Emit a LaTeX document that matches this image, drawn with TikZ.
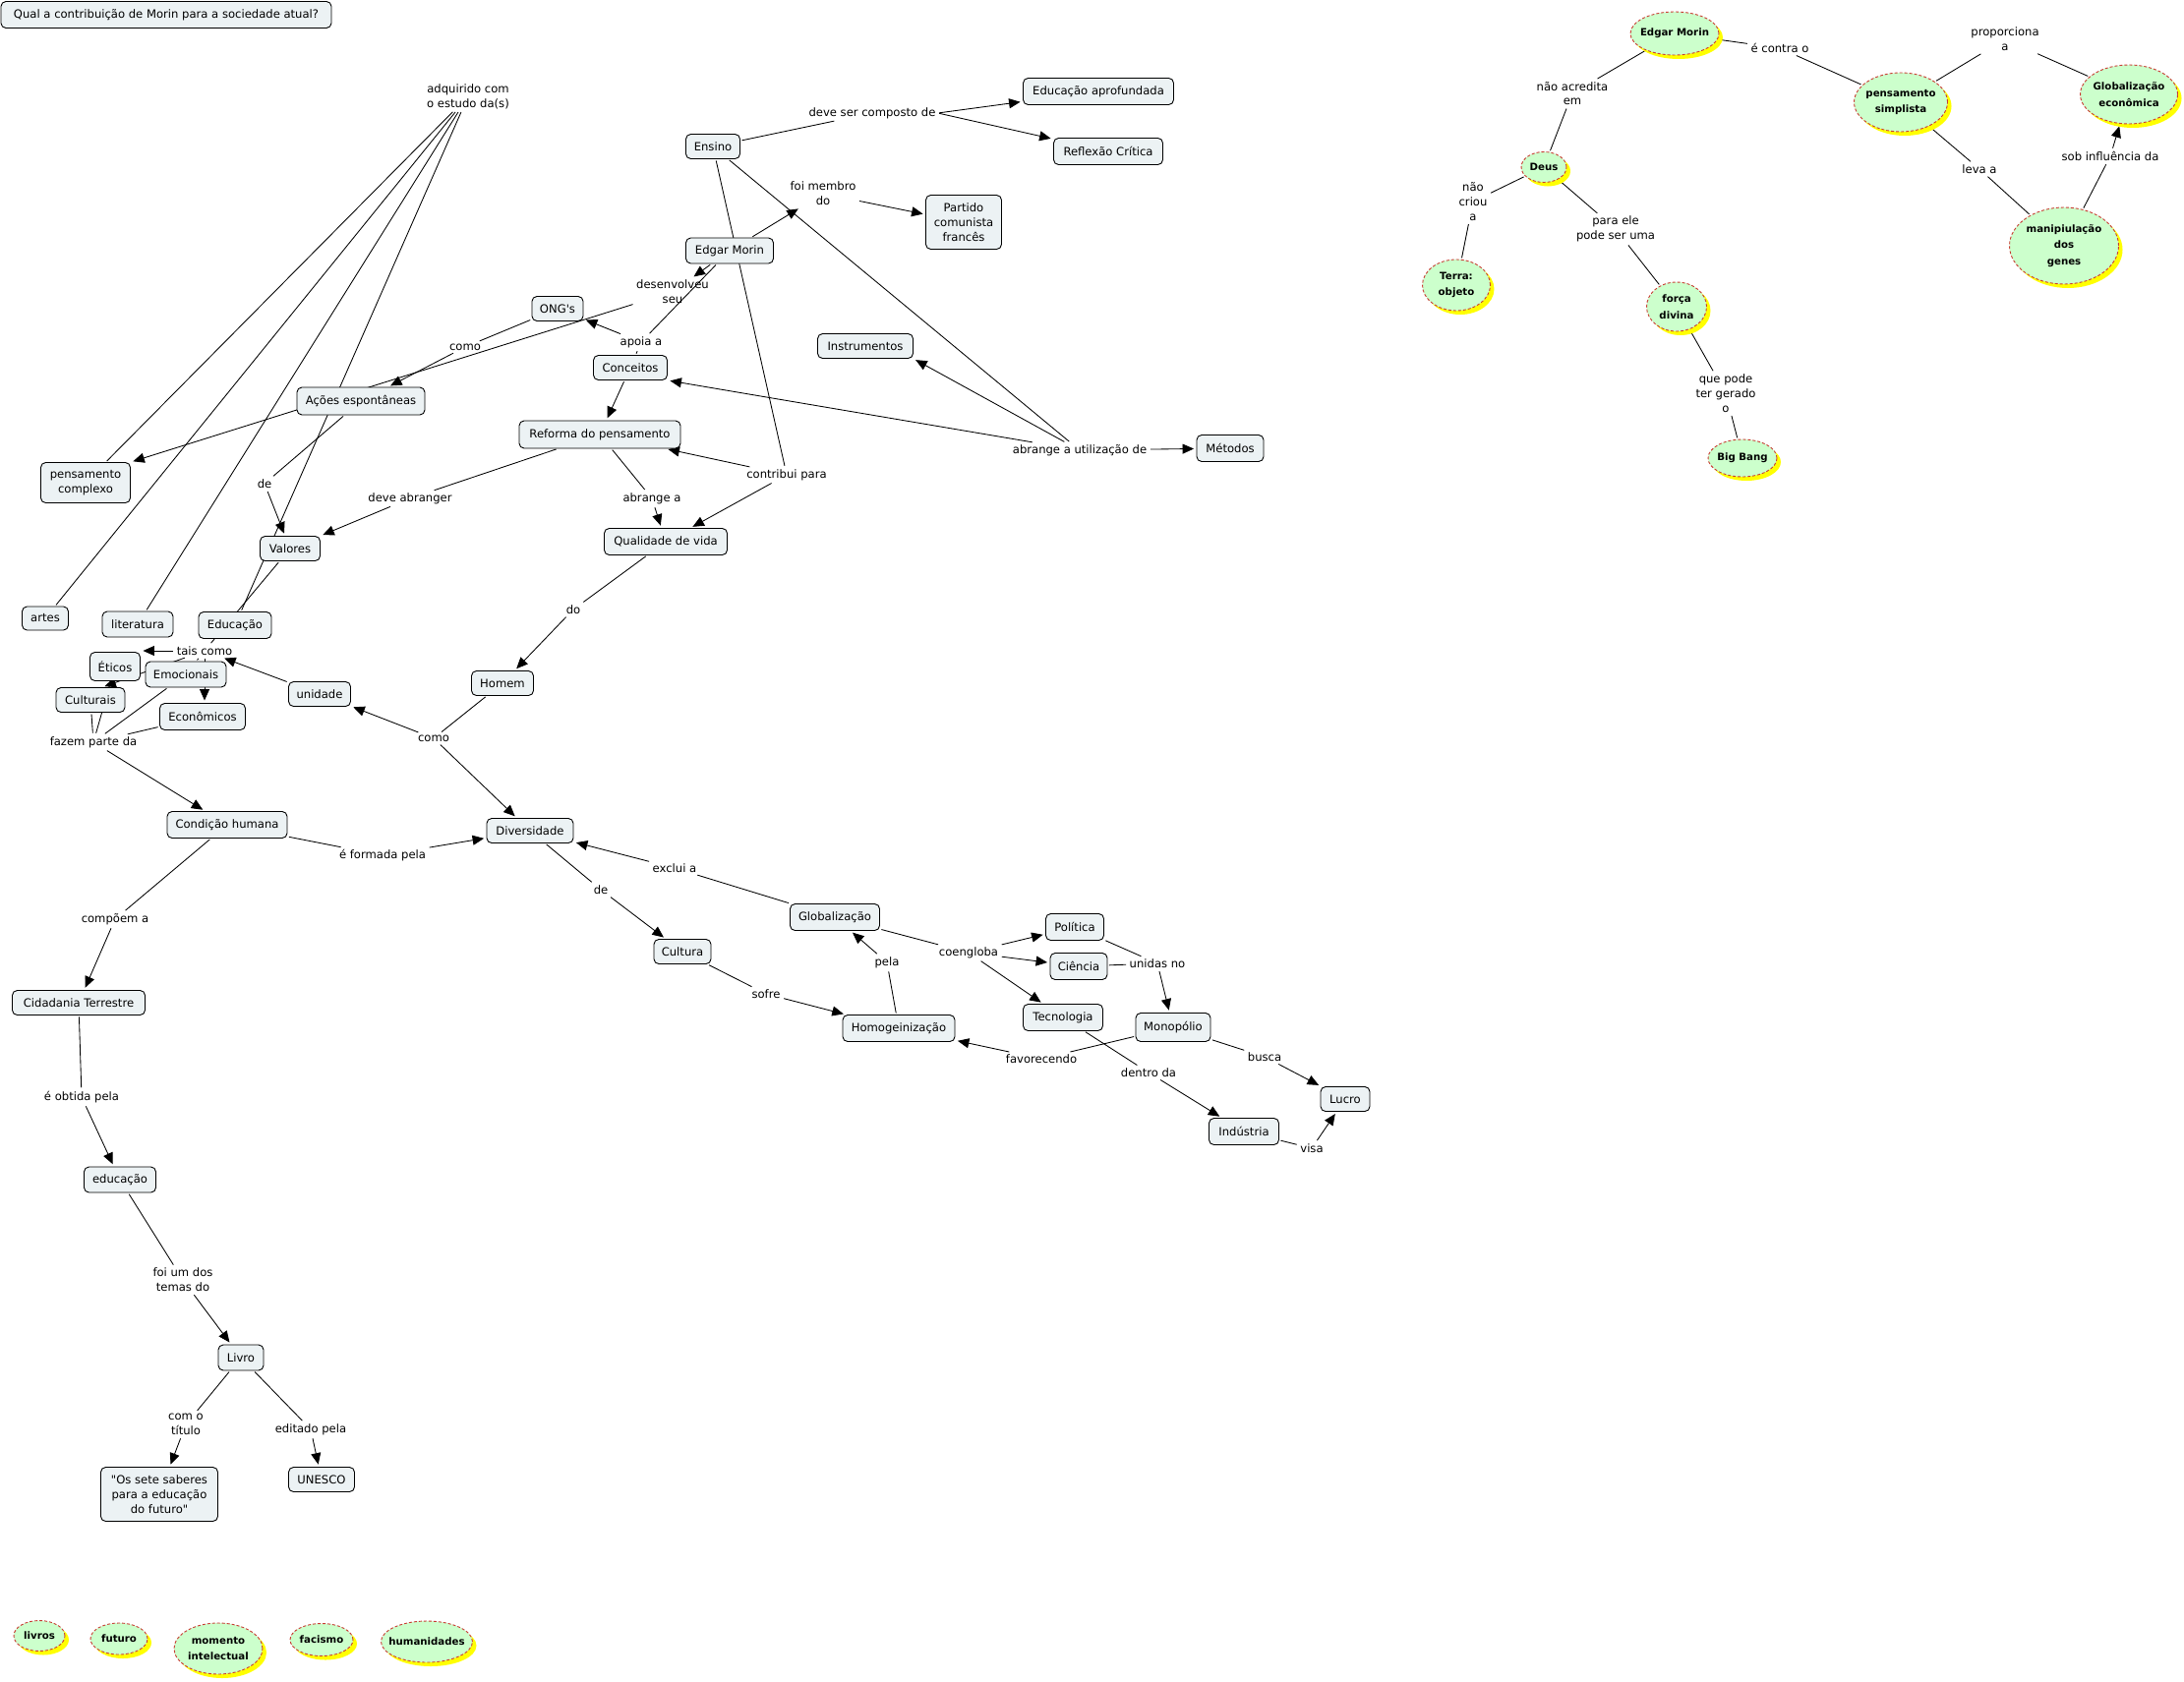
\documentclass[tikz,border=0pt]{standalone}
\usepackage{fontspec}
\setmainfont{DejaVu Sans}
\usetikzlibrary{arrows.meta,shapes.geometric,shadows,calc}
\pgfdeclarelayer{bgzero}
\pgfdeclarelayer{edges}
\pgfsetlayers{bgzero,edges,main}
\definecolor{boxfill}{RGB}{236,242,244}
\definecolor{gfill}{RGB}{204,255,204}
\definecolor{gdash}{RGB}{200,60,50}
\definecolor{gshadow}{RGB}{255,255,0}
\tikzset{
  cfont/.style={font=\fontsize{11.6}{14.8}\selectfont},
  cb/.style 2 args={draw=black, line width=0.9pt, rounded corners=5pt, fill=boxfill, align=center, inner sep=2pt, cfont, minimum width=#1pt, minimum height=#2pt},
  lab/.style={align=center, inner sep=2pt, cfont},
  gt/.style={align=center, inner sep=0pt, font=\fontsize{10.2}{16.5}\selectfont\bfseries},
  gn/.style 2 args={ellipse, draw=gdash, line width=0.9pt, dash pattern=on 3pt off 2pt, fill=gfill, inner sep=0pt, minimum width=#1pt, minimum height=#2pt, drop shadow={shadow xshift=4pt, shadow yshift=-4pt, fill=gshadow, opacity=1}},
  ln/.style={line width=0.85pt, shorten <=1.5pt, shorten >=1.5pt},
  ar/.style={ln, shorten >=2.5pt, -{Triangle[length=11.5pt,width=10pt]}},
}
\begin{document}
\begin{tikzpicture}[x=1pt,y=-1pt]
\useasboundingbox (0,0) rectangle (2221,1710);
\begin{pgfonlayer}{bgzero}\fill[white] (0,0) rectangle (2221,1710);\end{pgfonlayer}

% ---------- concepts ----------
\node[cb={336}{27}] (title) at (169,15) {Qual a contribuição de Morin para a sociedade atual?};
\node[cb={55}{25}] (ensino) at (725,149) {Ensino};
\node[cb={153}{27}] (eduaprof) at (1117,93) {Educação aprofundada};
\node[cb={111}{27}] (reflexao) at (1127,154) {Reflexão Crítica};
\node[cb={77}{55}] (partido) at (980,226) {Partido\\comunista\\francês};
\node[cb={89}{26}] (morin) at (742,255) {Edgar Morin};
\node[cb={52}{25}] (ongs) at (567,314) {ONG\textquotesingle s};
\node[cb={75}{25}] (conceitos) at (641,374) {Conceitos};
\node[cb={164}{28}] (reforma) at (610,442) {Reforma do pensamento};
\node[cb={97}{25}] (instrumentos) at (880,352) {Instrumentos};
\node[cb={68}{27}] (metodos) at (1251,456) {Métodos};
\node[cb={125}{27}] (qualidade) at (677,551) {Qualidade de vida};
\node[cb={130}{28}] (acoes) at (367,408) {Ações espontâneas};
\node[cb={91}{41}] (pcomplexo) at (87,491) {pensamento\\complexo};
\node[cb={61}{25}] (valores) at (295,558) {Valores};
\node[cb={47}{24}] (artes) at (46,629) {artes};
\node[cb={72}{26}] (literatura) at (140,635) {literatura};
\node[cb={74}{27}] (educacao) at (239,636) {Educação};
\node[cb={51}{29}] (eticos) at (117,678) {Éticos};
\node[cb={82}{26}] (emocionais) at (189,686) {Emocionais};
\node[cb={70}{25}] (culturais) at (92,712) {Culturais};
\node[cb={87}{27}] (economicos) at (206,729) {Econômicos};
\node[cb={63}{25}] (unidade) at (325,706) {unidade};
\node[cb={63}{25}] (homem) at (511,695) {Homem};
\node[cb={122}{27}] (condicao) at (231,839) {Condição humana};
\node[cb={88}{25}] (diversidade) at (539,845) {Diversidade};
\node[cb={135}{25}] (cidadania) at (80,1020) {Cidadania Terrestre};
\node[cb={73}{26}] (educacao2) at (122,1200) {educação};
\node[cb={46}{26}] (livro) at (245,1381) {Livro};
\node[cb={119}{55}] (sete) at (162,1520) {\textquotedbl Os sete saberes\\para a educação\\do futuro\textquotedbl};
\node[cb={67}{25}] (unesco) at (327,1505) {UNESCO};
\node[cb={91}{27}] (globalizacao) at (849,933) {Globalização};
\node[cb={58}{25}] (cultura) at (694,968) {Cultura};
\node[cb={59}{27}] (politica) at (1093,943) {Política};
\node[cb={58}{27}] (ciencia) at (1097,983) {Ciência};
\node[cb={81}{27}] (tecnologia) at (1081,1035) {Tecnologia};
\node[cb={76}{29}] (monopolio) at (1193,1045) {Monopólio};
\node[cb={114}{27}] (homog) at (914,1046) {Homogeinização};
\node[cb={50}{25}] (lucro) at (1368,1118) {Lucro};
\node[cb={71}{27}] (industria) at (1265,1151) {Indústria};

% ---------- green ellipses ----------
\node[gn={90}{44}] (gmorin) at (1703,34) {};
\node[gt] (gmorin-t) at (gmorin) {Edgar Morin};
\node[gn={95}{60}] (gsimpl) at (1933,104) {};
\node[gt] (gsimpl-t) at (gsimpl) {pensamento\\simplista};
\node[gn={99}{60}] (gglob) at (2165,96) {};
\node[gt] (gglob-t) at (gglob) {Globalização\\econômica};
\node[gn={46}{31}] (gdeus) at (1570,170) {};
\node[gt] (gdeus-t) at (gdeus) {Deus};
\node[gn={69}{52}] (gterra) at (1481,290) {};
\node[gt] (gterra-t) at (gterra) {Terra:\\objeto};
\node[gn={61}{50}] (gforca) at (1705,312) {};
\node[gt] (gforca-t) at (gforca) {força\\divina};
\node[gn={70}{38}] (gbig) at (1772,466) {};
\node[gt] (gbig-t) at (gbig) {Big Bang};
\node[gn={111}{78}] (gmanip) at (2099,250) {};
\node[gt] (gmanip-t) at (gmanip) {manipiulação\\dos\\genes};
\node[gn={52}{31}] (glivros) at (40,1664) {};
\node[gt] (glivros-t) at (glivros) {livros};
\node[gn={58}{32}] (gfuturo) at (121,1667) {};
\node[gt] (gfuturo-t) at (gfuturo) {futuro};
\node[gn={90}{52}] (gmomento) at (222,1677) {};
\node[gt] (gmomento-t) at (gmomento) {momento\\intelectual};
\node[gn={64}{33}] (gfacismo) at (327,1668) {};
\node[gt] (gfacismo-t) at (gfacismo) {facismo};
\node[gn={93}{42}] (ghuman) at (434,1670) {};
\node[gt] (ghuman-t) at (ghuman) {humanidades};

% ---------- linking phrases ----------
\node[lab] (l_adq) at (476,98) {adquirido com\\o estudo da(s)};
\node[lab] (l_comp) at (887,115) {deve ser composto de};
\node[lab] (l_membro) at (837,197) {foi membro\\do};
\node[lab] (l_desenv) at (684,297) {desenvolveu\\seu};
\node[lab] (l_apoia) at (652,348) {apoia a};
\node[lab] (l_como1) at (473,353) {como};
\node[lab] (l_utiliz) at (1098,458) {abrange a utilização de};
\node[lab] (l_contrib) at (800,483) {contribui para};
\node[lab] (l_abrange) at (663,507) {abrange a};
\node[lab] (l_deveabr) at (417,507) {deve abranger};
\node[lab] (l_de1) at (269,492) {de};
\node[lab] (l_do) at (583,620) {do};
\node[lab] (l_tais) at (208,662) {tais como};
\node[lab] (l_fazem) at (95,755) {fazem parte da};
\node[lab] (l_como2) at (441,751) {como};
\node[lab] (l_formada) at (389,870) {é formada pela};
\node[lab] (l_compoem) at (117,935) {compõem a};
\node[lab] (l_obtida) at (83,1116) {é obtida pela};
\node[lab] (l_temas) at (186,1302) {foi um dos\\temas do};
\node[lab] (l_titulo) at (189,1449) {com o\\título};
\node[lab] (l_editado) at (316,1454) {editado pela};
\node[lab] (l_exclui) at (686,883) {exclui a};
\node[lab] (l_de2) at (611,905) {de};
\node[lab] (l_sofre) at (779,1011) {sofre};
\node[lab] (l_pela) at (902,979) {pela};
\node[lab] (l_coengloba) at (985,969) {coengloba};
\node[lab] (l_unidas) at (1177,980) {unidas no};
\node[lab] (l_favor) at (1059,1077) {favorecendo};
\node[lab] (l_dentro) at (1168,1091) {dentro da};
\node[lab] (l_busca) at (1286,1075) {busca};
\node[lab] (l_visa) at (1334,1168) {visa};
\node[lab] (l_naoacr) at (1599,95) {não acredita\\em};
\node[lab] (l_contra) at (1810,49) {é contra o};
\node[lab] (l_proporc) at (2039,40) {proporciona\\a};
\node[lab] (l_leva) at (2013,172) {leva a};
\node[lab] (l_sob) at (2146,159) {sob influência da};
\node[lab] (l_criou) at (1498,205) {não\\criou\\a};
\node[lab] (l_paraele) at (1643,233) {para ele\\pode ser uma};
\node[lab] (l_quepode) at (1755,400) {que pode\\ter gerado\\o};

% ---------- connectors ----------
\begin{pgfonlayer}{edges}
\draw[ln] (ensino) -- (l_comp);
\draw[ar] (l_comp.east) -- (eduaprof);
\draw[ar] (l_comp.east) -- (reflexao);
\draw[ar] (morin) -- (l_membro);
\draw[ar] (l_membro) -- (partido);
\draw[ln] (ensino) -- (l_contrib);
\draw[ar] (l_contrib) -- (reforma);
\draw[ar] (l_contrib) -- (qualidade);
\draw[ln] (ensino) -- (l_utiliz);
\draw[ar] (l_utiliz) -- (metodos);
\draw[ar] (l_utiliz) -- (instrumentos.south east);
\draw[ar] (l_utiliz) -- (conceitos.south east);
\draw[ar] (morin) -- (l_desenv);
\draw[ar] (l_desenv) -- (pcomplexo.north east);
\draw[ln] (conceitos) -- (l_apoia);
\draw[ln] (l_apoia) -- (morin);
\draw[ar] (l_apoia) -- (ongs);
\draw[ln] (ongs) -- (l_como1);
\draw[ar] (l_como1) -- (acoes);
\draw[ln] (acoes) -- (l_de1);
\draw[ar] (l_de1) -- (valores);
\draw[ln] (reforma) -- (l_deveabr);
\draw[ar] (l_deveabr) -- (valores);
\draw[ln] (reforma) -- (l_abrange);
\draw[ar] (l_abrange) -- (qualidade);
\draw[ar] (conceitos) -- (reforma);
\draw[ln] (qualidade) -- (l_do);
\draw[ar] (l_do) -- (homem);
\draw[ln] (homem) -- (l_como2);
\draw[ar] (l_como2) -- (unidade);
\draw[ar] (l_como2) -- (diversidade);
\draw[ar] (unidade) -- (l_tais);
\draw[ln] (l_adq) -- (pcomplexo);
\draw[ln] (l_adq) -- (artes);
\draw[ln] (l_adq) -- (literatura);
\draw[ln] (l_adq) -- (educacao);
\draw[ln] (valores) -- (l_tais);
\draw[ar] (l_tais.west) -- (l_tais.west -| eticos.east);
\draw[ar] (l_tais) -- ($(culturais.north)+(12,0)$);
\draw[ln] (l_tais) -- (emocionais);
\draw[ar] (l_tais.south) -- (l_tais.south |- economicos.north);
\draw[ln] (eticos) -- (l_fazem);
\draw[ln] (culturais) -- (l_fazem);
\draw[ln] (emocionais) -- (l_fazem);
\draw[ln] (economicos) -- (l_fazem);
\draw[ar] (l_fazem) -- (condicao);
\draw[ln] (condicao) -- (l_formada);
\draw[ar] (l_formada) -- (diversidade);
\draw[ln] (condicao) -- (l_compoem);
\draw[ar] (l_compoem) -- (cidadania);
\draw[ln] (cidadania) -- (l_obtida);
\draw[ar] (l_obtida) -- (educacao2);
\draw[ln] (educacao2) -- (l_temas);
\draw[ar] (l_temas) -- (livro);
\draw[ln] (livro) -- (l_titulo);
\draw[ar] (l_titulo) -- (sete);
\draw[ln] (livro) -- (l_editado);
\draw[ar] (l_editado) -- (unesco);
\draw[ln] (globalizacao) -- (l_exclui);
\draw[ar] (l_exclui) -- (diversidade);
\draw[ln] (diversidade) -- (l_de2);
\draw[ar] (l_de2) -- (cultura);
\draw[ln] (cultura) -- (l_sofre);
\draw[ar] (l_sofre) -- (homog);
\draw[ln] (homog) -- (l_pela);
\draw[ar] (l_pela) -- (globalizacao);
\draw[ln] (globalizacao) -- (l_coengloba);
\draw[ar] (l_coengloba) -- (politica);
\draw[ar] (l_coengloba) -- (ciencia);
\draw[ar] (l_coengloba) -- (tecnologia);
\draw[ln] (politica) -- (l_unidas);
\draw[ln] (ciencia) -- (l_unidas);
\draw[ar] (l_unidas) -- (monopolio);
\draw[ln] (monopolio) -- (l_favor);
\draw[ar] (l_favor) -- (homog);
\draw[ln] (tecnologia) -- (l_dentro);
\draw[ar] (l_dentro) -- (industria);
\draw[ln] (monopolio) -- (l_busca);
\draw[ar] (l_busca) -- (lucro);
\draw[ln] (industria) -- (l_visa);
\draw[ar] (l_visa) -- (lucro);
% right side
\draw[ln] (gmorin) -- (l_naoacr);
\draw[ln] (l_naoacr) -- (gdeus);
\draw[ln] (gmorin) -- (l_contra);
\draw[ln] (l_contra) -- (gsimpl);
\draw[ln] (gsimpl) -- (l_proporc);
\draw[ln] (l_proporc) -- (gglob);
\draw[ln] (gsimpl) -- (l_leva);
\draw[ln] (l_leva) -- (gmanip);
\draw[ln] (gmanip) -- (l_sob);
\draw[ar] (l_sob) -- (gglob);
\draw[ln] (gdeus) -- (l_criou);
\draw[ln] (l_criou) -- (gterra);
\draw[ln] (gdeus) -- (l_paraele);
\draw[ln] (l_paraele) -- (gforca);
\draw[ln] (gforca) -- (l_quepode);
\draw[ln] (l_quepode) -- (gbig);
\end{pgfonlayer}
\end{tikzpicture}
\end{document}
